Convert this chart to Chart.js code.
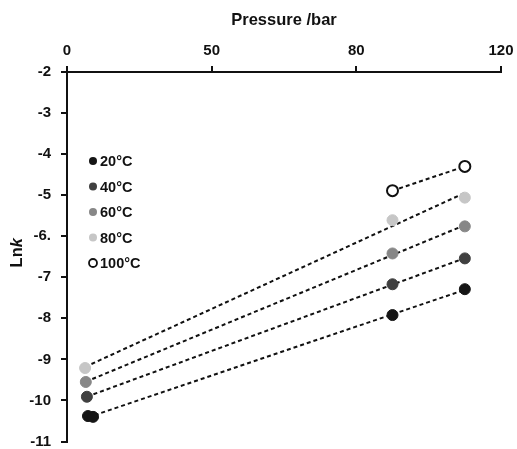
<!DOCTYPE html>
<html>
<head>
<meta charset="utf-8">
<script src="https://cdn.jsdelivr.net/npm/chart.js@4.4.0/dist/chart.umd.min.js"></script>
<style>
  html, body { margin: 0; padding: 0; background: #fff; }
  #wrap { width: 517px; height: 449px; }
</style>
</head>
<body>
<div id="wrap"><canvas id="graphique"></canvas></div>
<script>
// données
const temps = ['20°C', '40°C', '60°C', '80°C', '100°C'];
const p20 = [5.8, 7.2, 90, 110];
const lnk20 = [-10.38, -10.40, -7.92, -7.29];
const p40 = [5.5, 90, 110];
const lnk40 = [-9.91, -7.17, -6.54];
const p60 = [5.2, 90, 110];
const lnk60 = [-9.55, -6.42, -5.76];
const p80 = [5.0, 90, 110];
const lnk80 = [-9.21, -5.61, -5.06];
const p100 = [90, 110];
const lnk100 = [-4.89, -4.30];
const xTickLabels = ['0', '50', '80', '120'];
const yTickLabels = ['-2', '-3', '-4', '-5', '-6.', '-7', '-8', '-9', '-10', '-11'];

const couleurs = ['#151515', '#404040', '#878787', '#c6c6c6', '#ffffff'];
const series = [[p20, lnk20], [p40, lnk40], [p60, lnk60], [p80, lnk80], [p100, lnk100]];

const POLICE = 'Liberation Sans, Arial, sans-serif';

// droite de régression (moindres carrés) sur les points d'une série
function regression(xs, ys) {
  const n = xs.length;
  const mx = xs.reduce((a, b) => a + b, 0) / n;
  const my = ys.reduce((a, b) => a + b, 0) / n;
  let num = 0, den = 0;
  xs.forEach((x, i) => { num += (x - mx) * (ys[i] - my); den += (x - mx) * (x - mx); });
  const a = num / den;
  const b = my - a * mx;
  const x0 = Math.min(...xs), x1 = Math.max(...xs);
  return [{ x: x0, y: a * x0 + b }, { x: x1, y: a * x1 + b }];
}

const datasets = [];
series.forEach(([xs, ys], i) => {
  datasets.push({
    type: 'line',
    label: 'fit ' + temps[i],
    data: regression(xs, ys),
    borderColor: '#111',
    borderWidth: 2,
    borderDash: [4, 3],
    pointRadius: 0,
    fill: false,
    order: 2
  });
});
series.forEach(([xs, ys], i) => {
  datasets.push({
    type: 'scatter',
    label: temps[i],
    data: xs.map((x, k) => ({ x: x, y: ys[k] })),
    backgroundColor: couleurs[i],
    borderColor: i === 4 ? '#111' : couleurs[i],
    borderWidth: i === 4 ? 2 : 1,
    pointRadius: 5.5,
    pointHoverRadius: 5.5,
    order: 1
  });
});

// légende dessinée dans la zone du graphique + titre Y avec k en italique
const extras = {
  id: 'extras',
  afterDraw(chart) {
    const c = chart.ctx;
    c.save();
    c.textBaseline = 'middle';
    c.textAlign = 'left';
    c.font = 'bold 14.5px ' + POLICE;
    temps.forEach((t, i) => {
      const y = 161 + i * 25.5;
      c.beginPath();
      c.arc(93, y, 4, 0, Math.PI * 2);
      c.fillStyle = couleurs[i];
      c.fill();
      if (i === 4) { c.lineWidth = 1.8; c.strokeStyle = '#111'; c.stroke(); }
      c.fillStyle = '#111';
      c.fillText(t, 100, y + 1);
    });

    const ca = chart.chartArea;
    c.translate(17, (ca.top + ca.bottom) / 2 - 4);
    c.rotate(-Math.PI / 2);
    c.font = 'bold 16.5px ' + POLICE;
    const w1 = c.measureText('Ln').width;
    c.font = 'bold italic 16.5px ' + POLICE;
    const w2 = c.measureText('k').width;
    c.textAlign = 'left';
    c.font = 'bold 16.5px ' + POLICE;
    c.fillText('Ln', -(w1 + w2) / 2, 0);
    c.font = 'bold italic 16.5px ' + POLICE;
    c.fillText('k', -(w1 + w2) / 2 + w1, 0);
    c.restore();
  }
};

const ctx = document.getElementById('graphique').getContext('2d');
new Chart(ctx, {
  data: { datasets: datasets },
  plugins: [extras],
  options: {
    responsive: true,
    maintainAspectRatio: false,
    animation: false,
    layout: { padding: { top: 0, right: 16, bottom: 6, left: 0 } },
    plugins: { legend: { display: false }, tooltip: { enabled: false } },
    scales: {
      x: {
        type: 'linear',
        position: 'top',
        min: 0, max: 120,
        afterFit(s) { s.height = 72; s.paddingLeft = 0; s.paddingRight = 0; },
        ticks: {
          stepSize: 40,
          padding: 6,
          color: '#111',
          font: { family: POLICE, size: 15, weight: 'bold' },
          callback: (v) => xTickLabels[Math.round(v / 40)]
        },
        grid: { drawOnChartArea: false, drawTicks: true, tickLength: 6, color: '#111', lineWidth: 2 },
        border: { display: true, color: '#111', width: 2 },
        title: {
          display: true,
          text: 'Pressure /bar',
          color: '#111',
          padding: { top: 11, bottom: 0 },
          font: { family: POLICE, size: 16.5, weight: 'bold' }
        }
      },
      y: {
        type: 'linear',
        min: -11, max: -2,
        afterFit(s) { s.width = 67; s.paddingTop = 0; s.paddingBottom = 0; },
        ticks: {
          stepSize: 1,
          padding: 10,
          color: '#111',
          font: { family: POLICE, size: 15, weight: 'bold' },
          callback: (v) => yTickLabels[Math.round(-2 - v)]
        },
        grid: { drawOnChartArea: false, drawTicks: true, tickLength: 6, color: '#111', lineWidth: 2 },
        border: { display: true, color: '#111', width: 2 }
      }
    }
  }
});
</script>
</body>
</html>
